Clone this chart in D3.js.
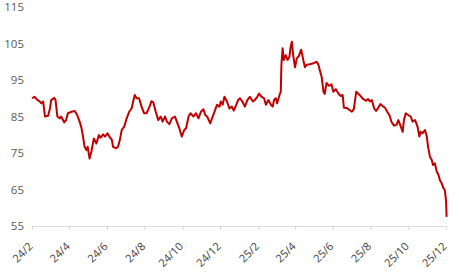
<!DOCTYPE html>
<html>
<head>
<meta charset="utf-8">
<script src="https://cdn.jsdelivr.net/npm/d3@7"></script>
<style>
  body { margin: 0; background: #fff; }
  svg { display: block; font-family: "Open Sans", sans-serif; }
</style>
</head>
<body>
<svg width="459" height="273"></svg>
<script>
// series: date / value pairs
const dates = [
  "2024-02-01","2024-02-05","2024-02-10","2024-02-13","2024-02-16","2024-02-19","2024-02-22","2024-02-27",
  "2024-03-01","2024-03-03","2024-03-08","2024-03-10","2024-03-13","2024-03-17","2024-03-19","2024-03-24","2024-03-27","2024-03-30",
  "2024-04-05","2024-04-10","2024-04-14","2024-04-18","2024-04-21","2024-04-23","2024-04-26","2024-04-29",
  "2024-05-01","2024-05-04","2024-05-07","2024-05-11","2024-05-15","2024-05-19","2024-05-22","2024-05-26","2024-05-29",
  "2024-06-02","2024-06-05","2024-06-09","2024-06-11","2024-06-16","2024-06-19","2024-06-22","2024-06-25","2024-06-29",
  "2024-07-03","2024-07-07","2024-07-11","2024-07-14","2024-07-16","2024-07-19","2024-07-23","2024-07-27","2024-07-31",
  "2024-08-04","2024-08-09","2024-08-12","2024-08-15","2024-08-19","2024-08-23","2024-08-27","2024-08-30",
  "2024-09-03","2024-09-06","2024-09-10","2024-09-14","2024-09-19","2024-09-22","2024-09-26","2024-09-30",
  "2024-10-04","2024-10-07","2024-10-11","2024-10-14","2024-10-19","2024-10-23","2024-10-27","2024-10-31",
  "2024-11-04","2024-11-07","2024-11-10","2024-11-15","2024-11-19","2024-11-23","2024-11-26","2024-11-30",
  "2024-12-02","2024-12-05","2024-12-08","2024-12-12","2024-12-16","2024-12-20","2024-12-23","2024-12-27","2024-12-30",
  "2025-01-02","2025-01-06","2025-01-10","2025-01-14","2025-01-18","2025-01-23","2025-01-26","2025-01-30",
  "2025-02-02","2025-02-06","2025-02-10","2025-02-13","2025-02-17","2025-02-21","2025-02-24","2025-02-26",
  "2025-03-01","2025-03-03","2025-03-07","2025-03-09","2025-03-10","2025-03-12","2025-03-14","2025-03-17","2025-03-20","2025-03-23","2025-03-25","2025-03-27","2025-03-29",
  "2025-04-01","2025-04-04","2025-04-07","2025-04-11","2025-04-15","2025-04-17","2025-04-20","2025-04-25",
  "2025-05-01","2025-05-06","2025-05-09","2025-05-11","2025-05-14","2025-05-17","2025-05-19","2025-05-22","2025-05-26","2025-05-30",
  "2025-06-02","2025-06-06","2025-06-10","2025-06-14","2025-06-17","2025-06-19","2025-06-24","2025-06-28",
  "2025-07-02","2025-07-05","2025-07-09","2025-07-12","2025-07-16","2025-07-20","2025-07-25","2025-07-28","2025-07-31",
  "2025-08-03","2025-08-07","2025-08-10","2025-08-14","2025-08-17","2025-08-21","2025-08-24","2025-08-28",
  "2025-09-01","2025-09-04","2025-09-08","2025-09-12","2025-09-15","2025-09-19","2025-09-22","2025-09-24","2025-09-27",
  "2025-10-01","2025-10-05","2025-10-08","2025-10-12","2025-10-16","2025-10-19","2025-10-21","2025-10-24","2025-10-28","2025-10-31",
  "2025-11-02","2025-11-05","2025-11-08","2025-11-10","2025-11-13","2025-11-16","2025-11-19","2025-11-21","2025-11-24","2025-11-27","2025-11-29",
  "2025-12-01","2025-12-02"
];
const values = [
  90.0,90.4,89.5,89.2,88.6,89.1,85.0,85.2,
  87.2,89.5,90.1,89.5,85.0,84.5,85.0,83.4,84.0,85.9,
  86.3,86.5,85.4,83.6,81.8,79.9,76.7,75.8,
  76.7,73.5,75.4,79.0,77.6,79.9,79.2,80.1,79.5,
  80.4,79.5,78.6,76.7,76.3,76.7,78.6,81.3,82.2,
  84.5,86.3,87.2,89.5,90.9,90.0,90.0,87.7,85.9,
  85.9,87.7,89.2,88.9,86.3,84.0,85.0,83.6,
  85.0,83.6,82.9,84.5,85.0,83.6,81.8,79.5,
  81.3,81.8,85.0,85.9,85.0,85.9,84.5,86.3,
  87.0,85.4,85.0,83.1,85.0,86.8,88.2,87.7,
  89.1,88.2,90.4,89.1,87.2,87.7,86.6,88.2,89.5,
  90.0,89.1,87.7,89.5,90.4,89.1,89.5,90.4,
  91.3,90.4,90.0,88.2,89.5,88.2,87.7,89.5,
  90.0,88.6,90.9,91.8,99.1,103.7,100.5,101.8,100.5,101.4,104.2,105.5,101.8,
  98.5,101.0,101.5,103.3,100.0,98.5,99.2,99.3,
  99.6,100.0,99.1,97.7,95.9,91.8,91.2,94.2,93.4,93.8,
  91.8,92.5,91.3,90.6,90.9,87.4,87.3,86.8,
  86.3,87.0,91.8,91.3,90.6,89.8,89.3,89.8,89.1,
  89.5,87.2,86.5,87.5,88.4,87.8,87.5,86.3,
  85.2,83.5,82.5,82.7,84.0,82.2,80.8,84.0,85.9,
  85.4,85.0,83.6,84.0,82.2,79.5,80.8,80.4,81.3,79.5,
  76.7,74.0,73.1,71.7,72.2,69.9,69.0,67.6,66.7,65.3,64.9,
  62.1,57.5
];

const xTickDates = ["2024-02-01","2024-04-01","2024-06-01","2024-08-01","2024-10-01","2024-12-01",
                    "2025-02-01","2025-04-01","2025-06-01","2025-08-01","2025-10-01","2025-12-01"];
const xTickLabels = ["24/2","24/4","24/6","24/8","24/10","24/12","25/2","25/4","25/6","25/8","25/10","25/12"];
const yTicks = [55, 65, 75, 85, 95, 105, 115];

const parse = d3.timeParse("%Y-%m-%d");
const data = dates.map((d, i) => ({date: parse(d), value: values[i]}));
const tickDates = xTickDates.map(parse);

const svg = d3.select("svg");
const plotLeft = 32, plotRight = 446, plotTop = 7, plotBottom = 226;

const x = d3.scaleTime()
    .domain([tickDates[0], tickDates[tickDates.length - 1]])
    .range([plotLeft, plotRight]);
const y = d3.scaleLinear()
    .domain([55, 115])
    .range([plotBottom, plotTop]);

// x axis: light grey baseline with short ticks, rotated labels
const xAxis = svg.append("g")
    .attr("transform", `translate(0, ${plotBottom})`)
    .call(d3.axisBottom(x).tickValues(tickDates).tickSize(4).tickSizeOuter(0)
        .tickFormat((d, i) => xTickLabels[i]));
xAxis.select(".domain").attr("stroke", "#d9d9d9").attr("stroke-width", 1.2);
xAxis.selectAll(".tick line").attr("stroke", "#d9d9d9").attr("stroke-width", 1.2);
xAxis.selectAll(".tick text")
    .attr("fill", "#404040")
    .attr("font-size", "11px")
    .attr("font-family", "Open Sans, sans-serif")
    .attr("text-anchor", "end")
    .attr("dy", null)
    .attr("y", null)
    .attr("transform", "translate(1, 21) rotate(-45)");

// y axis: labels only
const yAxis = svg.append("g")
    .attr("transform", `translate(${plotLeft}, 0)`)
    .call(d3.axisLeft(y).tickValues(yTicks).tickSize(0).tickPadding(8));
yAxis.select(".domain").remove();
yAxis.selectAll(".tick text")
    .attr("fill", "#595959")
    .attr("font-size", "11.5px")
    .attr("font-family", "Open Sans, sans-serif");

// series line
const line = d3.line()
    .x(d => x(d.date))
    .y(d => y(d.value));

svg.append("path")
    .datum(data)
    .attr("fill", "none")
    .attr("stroke", "#c00000")
    .attr("stroke-width", 2)
    .attr("stroke-linejoin", "round")
    .attr("d", line);
</script>
</body>
</html>
